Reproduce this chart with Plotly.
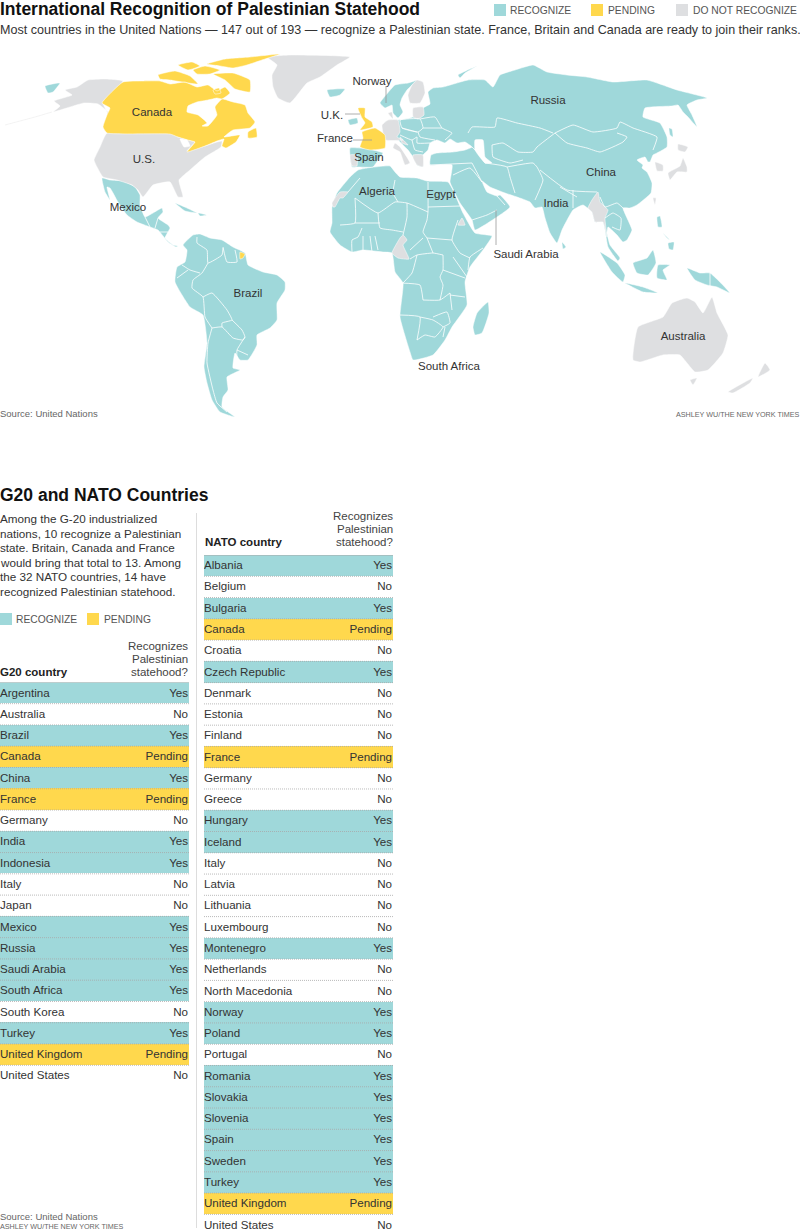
import plotly.graph_objects as go

# plotly's world topojson comes off a CDN and there is no network here,
# so the map outlines are traced by hand, in picture pixels
TEAL = '#9fd8da'
YELLOW = '#ffd84d'
GREY = '#dedfe1'
TEXT = '#333333'

# table data
g20_names = ['Argentina', 'Australia', 'Brazil', 'Canada', 'China', 'France', 'Germany', 'India', 'Indonesia',
             'Italy', 'Japan', 'Mexico', 'Russia', 'Saudi Arabia', 'South Africa', 'South Korea', 'Turkey',
             'United Kingdom', 'United States']
g20_status = ['Yes', 'No', 'Yes', 'Pending', 'Yes', 'Pending', 'No', 'Yes', 'Yes',
              'No', 'No', 'Yes', 'Yes', 'Yes', 'Yes', 'No', 'Yes',
              'Pending', 'No']
nato_names = ['Albania', 'Belgium', 'Bulgaria', 'Canada', 'Croatia', 'Czech Republic', 'Denmark', 'Estonia',
              'Finland', 'France', 'Germany', 'Greece', 'Hungary', 'Iceland', 'Italy', 'Latvia', 'Lithuania',
              'Luxembourg', 'Montenegro', 'Netherlands', 'North Macedonia', 'Norway', 'Poland', 'Portugal',
              'Romania', 'Slovakia', 'Slovenia', 'Spain', 'Sweden', 'Turkey', 'United Kingdom', 'United States']
nato_status = ['Yes', 'No', 'Yes', 'Pending', 'No', 'Yes', 'No', 'No',
               'No', 'Pending', 'No', 'No', 'Yes', 'Yes', 'No', 'No', 'No',
               'No', 'Yes', 'No', 'No', 'Yes', 'Yes', 'No',
               'Yes', 'Yes', 'Yes', 'Yes', 'Yes', 'Yes', 'Pending', 'No']
status_colors = {'Yes': TEAL, 'Pending': YELLOW, 'No': 'rgba(0,0,0,0)'}

# map labels
map_labels = ['Canada', 'U.S.', 'Mexico', 'Brazil', 'Norway', 'U.K.', 'France', 'Spain', 'Algeria', 'Egypt',
              'Russia', 'China', 'India', 'Saudi Arabia', 'South Africa', 'Australia']
map_label_x = [152, 144, 128, 248, 372, 332, 335, 369, 377, 441, 548, 601, 556, 526, 449, 683]
map_label_y = [113, 160, 208, 294, 82, 116, 139, 158, 192, 195, 101, 173, 204, 255, 367, 337]

# recognize
eurasia = [(433, 88), (443, 87), (468, 80), (485, 80), (493, 87), (500, 75), (515, 70), (533, 65), (547, 72),
           (567, 75), (587, 77), (613, 82), (647, 80), (677, 90), (707, 98), (697, 100), (687, 105), (692, 115),
           (697, 127), (688, 117), (683, 112), (678, 105), (672, 106), (645, 108), (643, 117), (660, 123),
           (667, 137), (667, 147), (657, 153), (653, 155), (650, 162), (648, 162), (645, 157), (637, 160),
           (643, 165), (642, 168), (647, 172), (652, 183), (651, 193), (637, 205), (630, 208), (623, 208),
           (627, 218), (632, 230), (627, 240), (623, 242), (617, 235), (608, 227), (607, 233), (610, 245),
           (620, 258), (618, 261), (608, 247), (605, 230), (603, 222), (595, 222), (592, 212), (583, 205),
           (573, 210), (562, 230), (557, 243), (550, 233), (545, 218), (542, 207), (535, 208), (530, 202),
           (517, 197), (505, 193), (490, 187), (482, 181), (487, 192), (497, 196), (500, 195), (510, 207),
           (497, 217), (475, 230), (472, 220), (460, 203), (452, 187), (450, 182), (452, 165), (430, 165),
           (431, 155), (437, 153), (453, 152), (465, 150), (472, 147), (465, 142), (457, 143), (450, 139),
           (445, 143), (437, 140), (430, 143), (428, 150), (423, 155), (423, 167), (417, 165), (413, 157),
           (408, 150), (403, 145), (398, 140), (385, 137), (385, 122), (398, 120), (410, 118), (418, 115),
           (423, 108), (430, 104), (428, 92)]
scandinavia = [(380, 103), (386, 95), (395, 85), (408, 83), (418, 80), (412, 85), (407, 90), (402, 98), (400, 105),
               (403, 112), (398, 118), (393, 113), (392, 105), (385, 108)]
ireland = [(348, 120), (357, 118), (358, 123), (350, 125)]
spain = [(350, 148), (368, 149), (383, 153), (378, 160), (373, 167), (358, 167), (352, 167)]
africa = [(350, 177), (358, 170), (367, 168), (390, 166), (395, 172), (400, 177), (417, 178), (427, 181), (448, 182),
          (453, 190), (463, 213), (475, 233), (492, 236), (483, 250), (470, 267), (465, 282), (467, 305), (452, 327),
          (445, 340), (433, 355), (413, 360), (410, 352), (400, 317), (403, 283), (395, 272), (392, 253), (383, 252),
          (363, 250), (352, 252), (340, 245), (330, 232), (332, 223), (332, 207), (337, 193)]
madagascar = [(488, 302), (489, 313), (482, 333), (475, 335), (473, 327), (477, 313)]
south_america = [(183, 245), (193, 235), (200, 234), (210, 238), (222, 240), (233, 247), (245, 253), (248, 265),
                 (263, 272), (277, 275), (285, 282), (285, 290), (277, 303), (277, 320), (270, 328), (257, 335),
                 (257, 345), (248, 360), (240, 360), (235, 353), (233, 368), (240, 370), (227, 377), (228, 390),
                 (223, 397), (222, 407), (235, 417), (220, 412), (212, 400), (207, 383), (204, 367), (207, 343),
                 (203, 315), (190, 307), (175, 282), (177, 267), (185, 262), (187, 250)]
mexico = [(102, 178), (110, 180), (123, 181), (135, 187), (140, 195), (140, 205), (145, 217), (153, 213), (162, 208),
          (163, 212), (158, 218), (168, 225), (170, 228), (165, 238), (173, 245), (178, 246), (176, 247), (168, 242),
          (158, 230), (150, 227), (137, 222), (127, 215), (118, 202), (110, 188), (107, 187), (110, 200), (105, 192)]
cuba = [(175, 203), (187, 208), (197, 213), (185, 211)]
hispaniola = [(198, 213), (207, 215), (200, 216)]
iceland = [(327, 90), (345, 89), (340, 95), (330, 97)]
chukotka = [(45, 86), (60, 83), (53, 92), (48, 93)]
novaya_zemlya = [(458, 75), (477, 66), (465, 73), (460, 78)]
sakhalin = [(669, 128), (672, 129), (673, 137), (670, 135)]
sri_lanka = [(562, 242), (566, 247), (563, 249)]
luzon = [(657, 217), (660, 216), (662, 227), (658, 227)]
visayas = [(663, 233), (670, 240), (667, 238)]
mindanao = [(668, 243), (674, 242), (673, 250), (669, 249)]
sumatra = [(600, 252), (617, 263), (625, 275), (623, 282), (612, 272)]
java = [(625, 283), (643, 287), (658, 293), (643, 292)]
borneo = [(633, 263), (647, 258), (653, 250), (656, 263), (648, 275), (637, 273)]
sulawesi = [(658, 265), (670, 265), (663, 270), (667, 280), (657, 278)]
new_guinea = [(687, 268), (700, 273), (710, 273), (730, 293), (717, 287), (707, 285), (695, 280)]

# do not recognize
alaska = [(123, 81), (105, 79), (88, 80), (77, 87), (65, 90), (72, 95), (54, 101), (60, 106), (53, 112), (70, 107),
          (84, 103), (98, 104), (108, 112), (110, 118), (103, 104), (102, 103)]
lower_48 = [(107, 133), (170, 133), (178, 137), (188, 140), (195, 142), (187, 151), (205, 146), (217, 142), (222, 141),
            (221, 147), (205, 157), (190, 170), (179, 180), (183, 197), (178, 197), (170, 182), (153, 185), (143, 197),
            (138, 190), (132, 185), (117, 180), (103, 177), (97, 167), (94, 160), (100, 147)]
greenland = [(267, 57), (290, 55), (350, 57), (337, 65), (320, 77), (307, 83), (290, 103), (278, 98), (273, 87),
             (272, 75), (277, 65)]
australia = [(633, 360), (638, 327), (663, 317), (672, 303), (687, 298), (695, 302), (703, 313), (712, 297), (717, 313),
             (728, 335), (723, 353), (708, 370), (695, 372), (687, 363), (680, 355), (663, 355), (640, 362)]
tasmania = [(690, 380), (697, 378), (693, 385)]
nz_north = [(765, 363), (770, 370), (758, 377)]
nz_south = [(728, 392), (753, 378), (750, 383), (733, 393)]
japan = [(668, 173), (680, 166), (683, 158), (687, 167), (687, 172), (677, 172), (670, 180)]
hokkaido = [(678, 144), (688, 147), (685, 152), (678, 150)]
south_korea = [(655, 162), (663, 165), (663, 171), (657, 171)]
taiwan = [(653, 198), (656, 198), (655, 205)]
myanmar = [(598, 192), (600, 202), (608, 210), (605, 218), (607, 237), (603, 222), (595, 222), (592, 212), (588, 208),
           (592, 200)]
portugal = [(350, 155), (357, 155), (357, 166), (352, 166)]
west_europe = [(382, 125), (388, 120), (398, 120), (400, 132), (397, 137), (403, 140), (385, 140), (383, 133)]
denmark = [(388, 113), (392, 112), (393, 119)]
italy = [(395, 143), (400, 147), (410, 163), (405, 165), (400, 152), (393, 148)]
greece = [(413, 155), (423, 155), (423, 167), (417, 165), (413, 158)]
croatia = [(400, 137), (408, 145), (402, 143)]
finland = [(412, 85), (417, 80), (423, 82), (425, 93), (420, 103), (410, 103), (408, 95)]
baltics = [(413, 108), (423, 107), (424, 115), (418, 119), (413, 117)]
western_sahara = [(333, 207), (332, 203), (340, 192), (348, 192), (343, 198), (340, 198), (335, 207)]
cameroon = [(392, 253), (400, 238), (403, 235), (407, 240), (403, 245), (409, 259), (398, 258)]
eritrea = [(458, 225), (462, 218), (465, 225)]

# pending
canada_main = [(102, 103), (123, 82), (143, 81), (160, 81), (170, 84), (185, 82), (197, 87), (208, 85), (217, 91),
               (225, 87), (230, 93), (222, 99), (217, 98), (208, 100), (197, 102), (188, 106), (187, 112), (198, 115),
               (207, 123), (202, 126), (208, 126), (217, 115), (215, 107), (222, 99), (233, 102), (245, 105),
               (248, 113), (255, 122), (250, 128), (233, 130), (224, 137), (240, 135), (236, 142), (226, 148),
               (222, 146), (224, 139), (217, 141), (205, 146), (187, 152), (195, 142), (188, 140), (178, 137),
               (170, 134), (107, 133), (103, 127), (107, 115), (110, 108)]
newfoundland = [(248, 132), (256, 128), (257, 137), (248, 138)]
ellesmere = [(207, 64), (225, 59), (250, 57), (280, 54), (262, 60), (247, 65), (233, 68), (220, 66)]
devon = [(193, 70), (205, 66), (220, 70), (210, 74), (197, 74)]
victoria = [(158, 75), (175, 71), (190, 76), (198, 84), (182, 82), (170, 80), (160, 79)]
baffin = [(213, 74), (233, 73), (250, 80), (250, 92), (235, 89), (225, 80)]
melville = [(178, 65), (192, 62), (200, 66), (188, 70)]
southampton = [(213, 90), (219, 88), (221, 93), (215, 94)]
uk = [(358, 108), (365, 108), (365, 117), (372, 122), (373, 127), (360, 130), (365, 123), (362, 118)]
france = [(362, 132), (375, 128), (385, 135), (385, 148), (370, 150), (360, 147), (363, 138)]
french_guiana = [(240, 252), (245, 254), (243, 258), (240, 259)]

# white borders drawn over the land
borders = [
    # south america
    [(197, 237), (197, 243), (207, 250), (208, 263), (222, 255), (223, 248)], [(223, 247), (227, 262), (237, 262), (235, 250)],
    [(182, 265), (190, 270), (200, 273)], [(177, 278), (188, 270)],
    [(208, 263), (202, 273), (193, 280), (192, 288), (203, 297), (205, 317), (212, 328)],
    [(203, 297), (212, 293), (227, 310), (232, 320), (222, 323), (222, 327)],
    [(212, 328), (222, 327), (233, 338), (243, 340), (245, 337), (242, 330), (232, 320)],
    [(212, 328), (208, 343), (207, 363), (213, 390), (217, 403), (227, 412)],
    [(245, 337), (237, 350), (237, 360)], [(237, 350), (248, 355)],
    # central america
    [(145, 217), (150, 227)], [(158, 218), (155, 228)], [(168, 232), (160, 232)],
    # africa
    [(348, 192), (360, 178)], [(355, 198), (378, 213), (395, 202), (407, 203), (428, 212)],
    [(395, 180), (393, 193), (398, 202)], [(428, 182), (428, 212), (427, 220), (423, 232), (427, 238)],
    [(428, 207), (460, 206)], [(407, 203), (407, 217), (403, 235)], [(378, 213), (380, 228), (392, 230), (403, 232)],
    [(355, 198), (355, 223), (340, 225)], [(355, 223), (380, 223)], [(362, 228), (358, 237), (352, 240), (352, 252)],
    [(363, 236), (363, 250)], [(370, 236), (372, 252)], [(375, 236), (378, 250)], [(410, 250), (423, 238)],
    [(410, 259), (417, 255), (433, 253), (443, 255)], [(427, 238), (433, 253)], [(427, 238), (452, 240)],
    [(458, 220), (452, 240), (460, 253), (470, 258)], [(483, 248), (470, 257), (468, 270)], [(453, 257), (467, 277)],
    [(443, 255), (443, 270), (440, 277), (443, 285), (440, 300)], [(443, 270), (465, 278)],
    [(417, 255), (412, 273), (403, 283)], [(400, 283), (420, 285), (423, 300)], [(423, 300), (440, 300), (450, 293)],
    [(400, 315), (420, 317), (417, 340)], [(420, 317), (433, 320), (443, 327), (435, 337), (425, 335), (417, 340)],
    [(433, 317), (447, 312), (450, 323), (443, 327)], [(450, 295), (465, 297)], [(450, 293), (452, 310)],
    [(443, 337), (445, 327)],
    # europe and central asia
    [(400, 120), (420, 119), (423, 128), (418, 132), (402, 128), (400, 120)],
    [(420, 119), (435, 117), (442, 128), (452, 133), (445, 140)], [(423, 128), (442, 128)], [(418, 132), (420, 137), (435, 140)],
    [(402, 128), (417, 132)], [(400, 135), (412, 140), (417, 137), (417, 143), (430, 143)], [(412, 140), (415, 150), (423, 152)],
    [(468, 133), (472, 127), (495, 127), (497, 118), (517, 123), (540, 128), (553, 133)],
    [(555, 133), (573, 125), (593, 132), (617, 128), (620, 122), (633, 128), (657, 137), (653, 150)],
    [(555, 133), (567, 143), (587, 148), (600, 152), (623, 142), (627, 137), (617, 133)],
    [(492, 145), (503, 143), (518, 152), (533, 152), (537, 147), (555, 133)], [(492, 145), (493, 157), (510, 163), (523, 160)],
    [(485, 163), (507, 167), (510, 177), (515, 193)], [(472, 163), (482, 182)], [(430, 165), (472, 163)],
    [(453, 175), (470, 168), (482, 182)], [(507, 167), (533, 163), (537, 167), (543, 180), (535, 200)],
    [(540, 170), (567, 190), (597, 192)], [(560, 187), (577, 197)], [(600, 197), (605, 207), (617, 203), (623, 208)],
    [(605, 218), (613, 213), (621, 218), (620, 230), (612, 227)], [(472, 220), (487, 215), (497, 210)],
    [(497, 196), (505, 205)], [(472, 147), (480, 155), (485, 163)], [(573, 190), (573, 208)],
    [(710, 273), (710, 290)],
]

# lakes and the Caspian, painted back to white
caspian = [(475, 140), (483, 140), (485, 157), (492, 163), (485, 163), (475, 150)]
great_lakes = [(180, 139), (187, 140), (190, 146), (184, 147)]


def polygons(shapes):
    # joins polygons with None so one trace can fill them all
    xs, ys = [], []
    for shape in shapes:
        xs += [p[0] for p in shape] + [shape[0][0], None]
        ys += [p[1] for p in shape] + [shape[0][1], None]
    return xs, ys


def lines(paths):
    xs, ys = [], []
    for path in paths:
        xs += [p[0] for p in path] + [None]
        ys += [p[1] for p in path] + [None]
    return xs, ys


def add_land(fig, shapes, color):
    xs, ys = polygons(shapes)
    fig.add_trace(go.Scatter(x=xs, y=ys, mode='lines', fill='toself', fillcolor=color,
                             line=dict(color='white', width=0.5, shape='spline', smoothing=0.4),
                             hoverinfo='skip', showlegend=False))


def add_table(fig, names, status, x_axis, y_axis):
    rows = list(range(len(names)))
    # text sits a touch under the row centre
    text_y = [r + 0.03 for r in rows]
    fig.add_trace(go.Bar(x=[1] * len(rows), y=rows, orientation='h', width=1, xaxis=x_axis, yaxis=y_axis,
                         marker=dict(color=[status_colors[s] for s in status], line=dict(width=0)),
                         hoverinfo='skip', showlegend=False))
    fig.add_trace(go.Scatter(x=[0] * len(rows), y=text_y, mode='text', text=names, textposition='middle right',
                             textfont=dict(size=11.6, color=TEXT), xaxis=x_axis, yaxis=y_axis,
                             hoverinfo='skip', showlegend=False))
    fig.add_trace(go.Scatter(x=[0.995] * len(rows), y=text_y, mode='text', text=status, textposition='middle left',
                             textfont=dict(size=11.6, color=TEXT), xaxis=x_axis, yaxis=y_axis,
                             hoverinfo='skip', showlegend=False))
    # dotted rules under each row, solid one above the first
    for r in rows[:-1]:
        fig.add_shape(type='line', x0=0, x1=1, y0=r + 0.5, y1=r + 0.5, xref=x_axis, yref=y_axis,
                      line=dict(color='#a8a8a8', width=0.8, dash='1px,1px'), layer='above')
    fig.add_shape(type='line', x0=0, x1=1, y0=-0.5, y1=-0.5, xref=x_axis, yref=y_axis,
                  line=dict(color='#a8a8a8', width=1), layer='above')


def label(fig, x, y, text, size=12, color=TEXT, anchor='left', bold=False):
    if bold:
        text = '<b>' + text + '</b>'
    fig.add_annotation(x=x, y=y, xref='x', yref='y', text=text, showarrow=False, xanchor=anchor, yanchor='middle',
                       font=dict(size=size, color=color), borderpad=0, borderwidth=0)


def swatch(fig, x, y, size, color):
    fig.add_shape(type='rect', x0=x, x1=x + size, y0=y, y1=y + size, xref='x', yref='y',
                  fillcolor=color, line=dict(width=0))


def rule(fig, x0, y0, x1, y1, color='#9a9a9a', width=0.8):
    fig.add_shape(type='line', x0=x0, x1=x1, y0=y0, y1=y1, xref='x', yref='y', line=dict(color=color, width=width))


fig = go.Figure()

add_land(fig, [eurasia, scandinavia, ireland, spain, africa, madagascar, south_america, mexico, cuba, hispaniola,
               iceland, chukotka, novaya_zemlya, sakhalin, sri_lanka, luzon, visayas, mindanao, sumatra, java, borneo,
               sulawesi, new_guinea], TEAL)
add_land(fig, [alaska, lower_48, greenland, australia, tasmania, nz_north, nz_south, japan, hokkaido, south_korea,
               taiwan, myanmar, portugal, west_europe, denmark, italy, greece, croatia, finland, baltics,
               western_sahara, cameroon, eritrea], GREY)
add_land(fig, [canada_main, newfoundland, ellesmere, devon, victoria, baffin, melville, southampton, uk, france,
               french_guiana], YELLOW)
add_land(fig, [caspian, great_lakes], 'white')
bx, by = lines(borders)
fig.add_trace(go.Scatter(x=bx, y=by, mode='lines', line=dict(color='white', width=0.8, shape='spline', smoothing=0.4),
                         hoverinfo='skip', showlegend=False))
ax, ay = lines([[(52, 112), (35, 117), (5, 125)]])
fig.add_trace(go.Scatter(x=ax, y=ay, mode='lines', line=dict(color='#eeeeee', width=0.7), hoverinfo='skip',
                         showlegend=False))
fig.add_trace(go.Scatter(x=map_label_x, y=map_label_y, mode='text', text=map_labels, textposition='middle center',
                         textfont=dict(size=11.5, color=TEXT), hoverinfo='skip', showlegend=False))

add_table(fig, g20_names, g20_status, 'x2', 'y2')
add_table(fig, nato_names, nato_status, 'x3', 'y3')

# leader lines
rule(fig, 386, 86, 386, 103)
rule(fig, 345, 114, 360, 114)
rule(fig, 353, 140, 372, 140)
rule(fig, 496, 210, 496, 245)
# divider between the two tables
rule(fig, 196.5, 513, 196.5, 1228, color='#dddddd', width=1)

# header
label(fig, 0, 9, 'International Recognition of Palestinian Statehood', size=17.5, color='#111111', bold=True)
label(fig, 0, 30, 'Most countries in the United Nations — 147 out of 193 — recognize a Palestinian state. '
                  'France, Britain and Canada are ready to join their ranks.', size=12.55, color=TEXT)
swatch(fig, 494, 4, 12, TEAL)
label(fig, 510, 10, 'RECOGNIZE', size=10.3, color='#555555')
swatch(fig, 591, 4, 12, YELLOW)
label(fig, 608, 10, 'PENDING', size=10.3, color='#555555')
swatch(fig, 676, 4, 12, GREY)
label(fig, 693, 10, 'DO NOT RECOGNIZE', size=10.3, color='#555555')
label(fig, 0, 413, 'Source: United Nations', size=9.5, color='#666666')
label(fig, 800, 414, 'ASHLEY WU/THE NEW YORK TIMES', size=7.2, color='#666666', anchor='right')

# second section
label(fig, 0, 495, 'G20 and NATO Countries', size=17.5, color='#111111', bold=True)
intro = ['Among the G-20 industrialized', 'nations, 10 recognize a Palestinian', 'state. Britain, Canada and France',
         'would bring that total to 13. Among', 'the 32 NATO countries, 14 have', 'recognized Palestinian statehood.']
for i, line in enumerate(intro):
    label(fig, 0, 518.5 + i * 14.6, line, size=11.7, color=TEXT)
swatch(fig, 0, 613, 12, TEAL)
label(fig, 16, 619, 'RECOGNIZE', size=10.3, color='#555555')
swatch(fig, 87, 613, 12, YELLOW)
label(fig, 104, 619, 'PENDING', size=10.3, color='#555555')

header_lines = ['Recognizes', 'Palestinian', 'statehood?']
for i, line in enumerate(header_lines):
    label(fig, 188, 646 + i * 13, line, size=11.5, color='#444444', anchor='right')
    label(fig, 393, 516 + i * 13, line, size=11.5, color='#444444', anchor='right')
label(fig, 0, 672, 'G20 country', size=11.5, color='#222222', bold=True)
label(fig, 205, 542, 'NATO country', size=11.5, color='#222222', bold=True)
label(fig, 0, 1216, 'Source: United Nations', size=9.5, color='#666666')
label(fig, 0, 1226, 'ASHLEY WU/THE NEW YORK TIMES', size=7.2, color='#666666')

ROW_H = 21.27
g20_top, nato_top = 682.4, 555.0
g20_bottom = g20_top + ROW_H * len(g20_names)
hidden = dict(visible=False, fixedrange=True)

fig.update_layout(
    width=800, height=1232, margin=dict(l=0, r=0, t=0, b=0), paper_bgcolor='white', plot_bgcolor='rgba(0,0,0,0)',
    font=dict(family='Liberation Sans'), bargap=0, showlegend=False,
    xaxis=dict(range=[0, 800], domain=[0, 1], **hidden),
    yaxis=dict(range=[1232, 0], domain=[0, 1], **hidden),
    xaxis2=dict(range=[0, 1], domain=[0, 189 / 800], anchor='y2', **hidden),
    yaxis2=dict(range=[len(g20_names) - 0.5, -0.5], domain=[1 - g20_bottom / 1232, 1 - g20_top / 1232], anchor='x2', **hidden),
    xaxis3=dict(range=[0, 1], domain=[204 / 800, 393 / 800], anchor='y3', **hidden),
    yaxis3=dict(range=[(1232 - nato_top) / ROW_H - 0.5, -0.5], domain=[0, 1 - nato_top / 1232], anchor='x3', **hidden),
)

# the page's default body margin would push the 800px figure off the window
fig.write_html("out.html", config={'displayModeBar': False}, post_script="document.body.style.margin = '0';")
